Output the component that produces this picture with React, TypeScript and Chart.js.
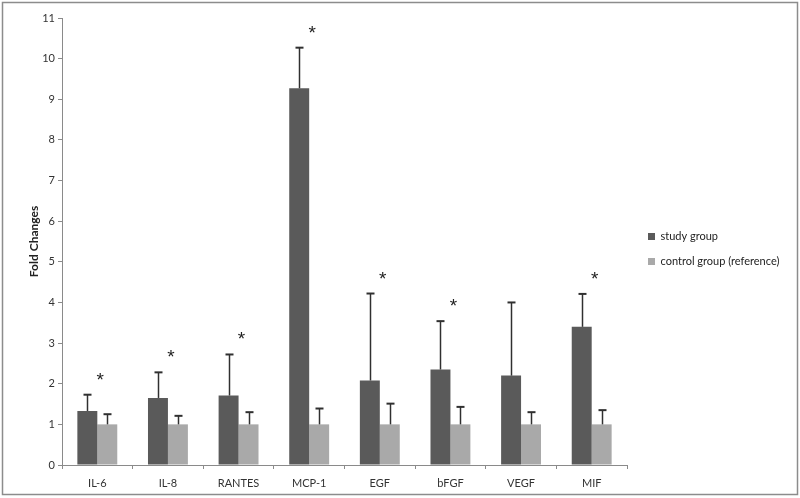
import React, { useEffect, useRef } from 'react';
import { Chart, registerables } from 'chart.js';

Chart.register(...registerables);

const categories = ['IL-6', 'IL-8', 'RANTES', 'MCP-1', 'EGF', 'bFGF', 'VEGF', 'MIF'];
const seriesNames = ['study group', 'control group (reference)'];
const studyValues = [1.33, 1.65, 1.71, 9.27, 2.08, 2.35, 2.2, 3.4];
const studyErrors = [0.4, 0.63, 1.01, 1.0, 2.14, 1.19, 1.8, 0.81];
const controlValues = [1, 1, 1, 1, 1, 1, 1, 1];
const controlErrors = [0.25, 0.21, 0.3, 0.39, 0.51, 0.43, 0.3, 0.35];
const significant = [true, true, true, true, true, true, false, true];
const yMin = 0;
const yMax = 11;
const yStep = 1;
const yTitle = 'Fold Changes';

const STUDY_COLOR = '#5a5a5a';
const CONTROL_COLOR = '#a9a9a9';
const TEXT_COLOR = '#333333';
const AXIS_COLOR = '#8a8a8a';
const FONT = 'Lato';

const errorBarPlugin = {
  id: 'errorBars',
  afterDatasetsDraw(chart: any) {
    const { ctx } = chart;
    const y = chart.scales.y;
    const x = chart.scales.x;
    const vals = [studyValues, controlValues];
    const errs = [studyErrors, controlErrors];
    ctx.save();
    ctx.strokeStyle = '#303030';
    chart.data.datasets.forEach((_ds: any, di: number) => {
      const meta = chart.getDatasetMeta(di);
      meta.data.forEach((bar: any, i: number) => {
        const top = y.getPixelForValue(vals[di][i] + errs[di][i]);
        const bx = Math.round(bar.x) + 0.5;
        ctx.lineWidth = 1.5;
        ctx.beginPath();
        ctx.moveTo(bx, bar.y);
        ctx.lineTo(bx, top);
        ctx.stroke();
        ctx.lineWidth = 2;
        ctx.beginPath();
        ctx.moveTo(bx - 4, top);
        ctx.lineTo(bx + 4, top);
        ctx.stroke();
      });
    });
    ctx.fillStyle = '#222222';
    ctx.font = '19px "Liberation Sans"';
    ctx.textAlign = 'center';
    ctx.textBaseline = 'alphabetic';
    categories.forEach((_c, i) => {
      if (!significant[i]) return;
      const top = y.getPixelForValue(studyValues[i] + studyErrors[i]);
      const cx = x.getPixelForValue(i) + 3;
      ctx.fillText('*', cx, top - 19 + 10);
    });
    ctx.restore();
  },
};

const framePlugin = {
  id: 'frame',
  beforeLayout(chart: any) {
    const lg = chart.legend;
    if (lg && !lg.__patched) {
      const orig = lg.fit.bind(lg);
      lg.fit = () => {
        orig();
        lg.width = 173;
      };
      lg.__patched = true;
    }
  },
  afterLayout(chart: any) {
    const lg = chart.legend;
    if (!lg) return;
    const w = lg.width;
    lg.left = chart.chartArea.right + 7;
    lg.right = lg.left + w;
    lg.top = 0;
    lg.bottom = chart.height;
    lg.height = chart.height;
  },
  beforeDraw(chart: any) {
    const { ctx } = chart;
    ctx.save();
    ctx.fillStyle = '#ffffff';
    ctx.fillRect(0, 0, chart.width, chart.height);
    ctx.restore();
  },
  afterDraw(chart: any) {
    const { ctx } = chart;
    ctx.save();
    ctx.strokeStyle = '#8c8c8c';
    ctx.lineWidth = 1.5;
    ctx.strokeRect(2.5, 2.5, chart.width - 5, chart.height - 6);
    ctx.restore();
  },
};

export default function App() {
  const canvasRef = useRef<HTMLCanvasElement | null>(null);

  useEffect(() => {
    if (!canvasRef.current) return;
    const chart = new Chart(canvasRef.current, {
      type: 'bar',
      data: {
        labels: categories,
        datasets: [
          {
            label: seriesNames[0],
            data: studyValues,
            backgroundColor: STUDY_COLOR,
            borderWidth: 0,
            categoryPercentage: 0.565,
            barPercentage: 1.0,
          },
          {
            label: seriesNames[1],
            data: controlValues,
            backgroundColor: CONTROL_COLOR,
            borderWidth: 0,
            categoryPercentage: 0.565,
            barPercentage: 1.0,
          },
        ],
      },
      options: {
        responsive: false,
        animation: false,
        devicePixelRatio: 1,
        layout: { padding: { left: 22, top: 18, right: 0, bottom: 0 } },
        plugins: {
          legend: {
            position: 'right',
            align: 'center',
            labels: {
              boxWidth: 7,
              boxHeight: 7,
              padding: 14,
              color: '#222222',
              font: { family: FONT, size: 11 },
            },
          },
          tooltip: { enabled: false },
        },
        scales: {
          x: {
            offset: true,
            afterFit: (s: any) => {
              s.height = 33;
            },
            grid: {
              display: true,
              drawOnChartArea: false,
              drawTicks: true,
              tickLength: 4,
              color: AXIS_COLOR,
              offset: true,
            },
            border: { display: true, color: AXIS_COLOR, width: 1 },
            ticks: {
              color: TEXT_COLOR,
              font: { family: FONT, size: 11 },
              padding: 8,
              maxRotation: 0,
            },
          },
          y: {
            min: yMin,
            max: yMax,
            afterFit: (s: any) => {
              s.width = 40;
            },
            grid: {
              display: true,
              drawOnChartArea: false,
              drawTicks: true,
              tickLength: 4,
              color: AXIS_COLOR,
            },
            border: { display: true, color: AXIS_COLOR, width: 1 },
            ticks: {
              stepSize: yStep,
              color: TEXT_COLOR,
              font: { family: FONT, size: 11 },
              padding: 3,
            },
            title: {
              display: true,
              text: yTitle,
              color: '#222222',
              font: { family: FONT, size: 12, weight: 'bold' },
              padding: { top: 5, bottom: 0 },
            },
          },
        },
      },
      plugins: [errorBarPlugin, framePlugin],
    } as any);
    return () => chart.destroy();
  }, []);

  return (
    <div style={{ position: 'absolute', left: 0, top: 0, width: 800, height: 498 }}>
      <canvas ref={canvasRef} width={800} height={498} style={{ display: 'block' }} />
    </div>
  );
}
